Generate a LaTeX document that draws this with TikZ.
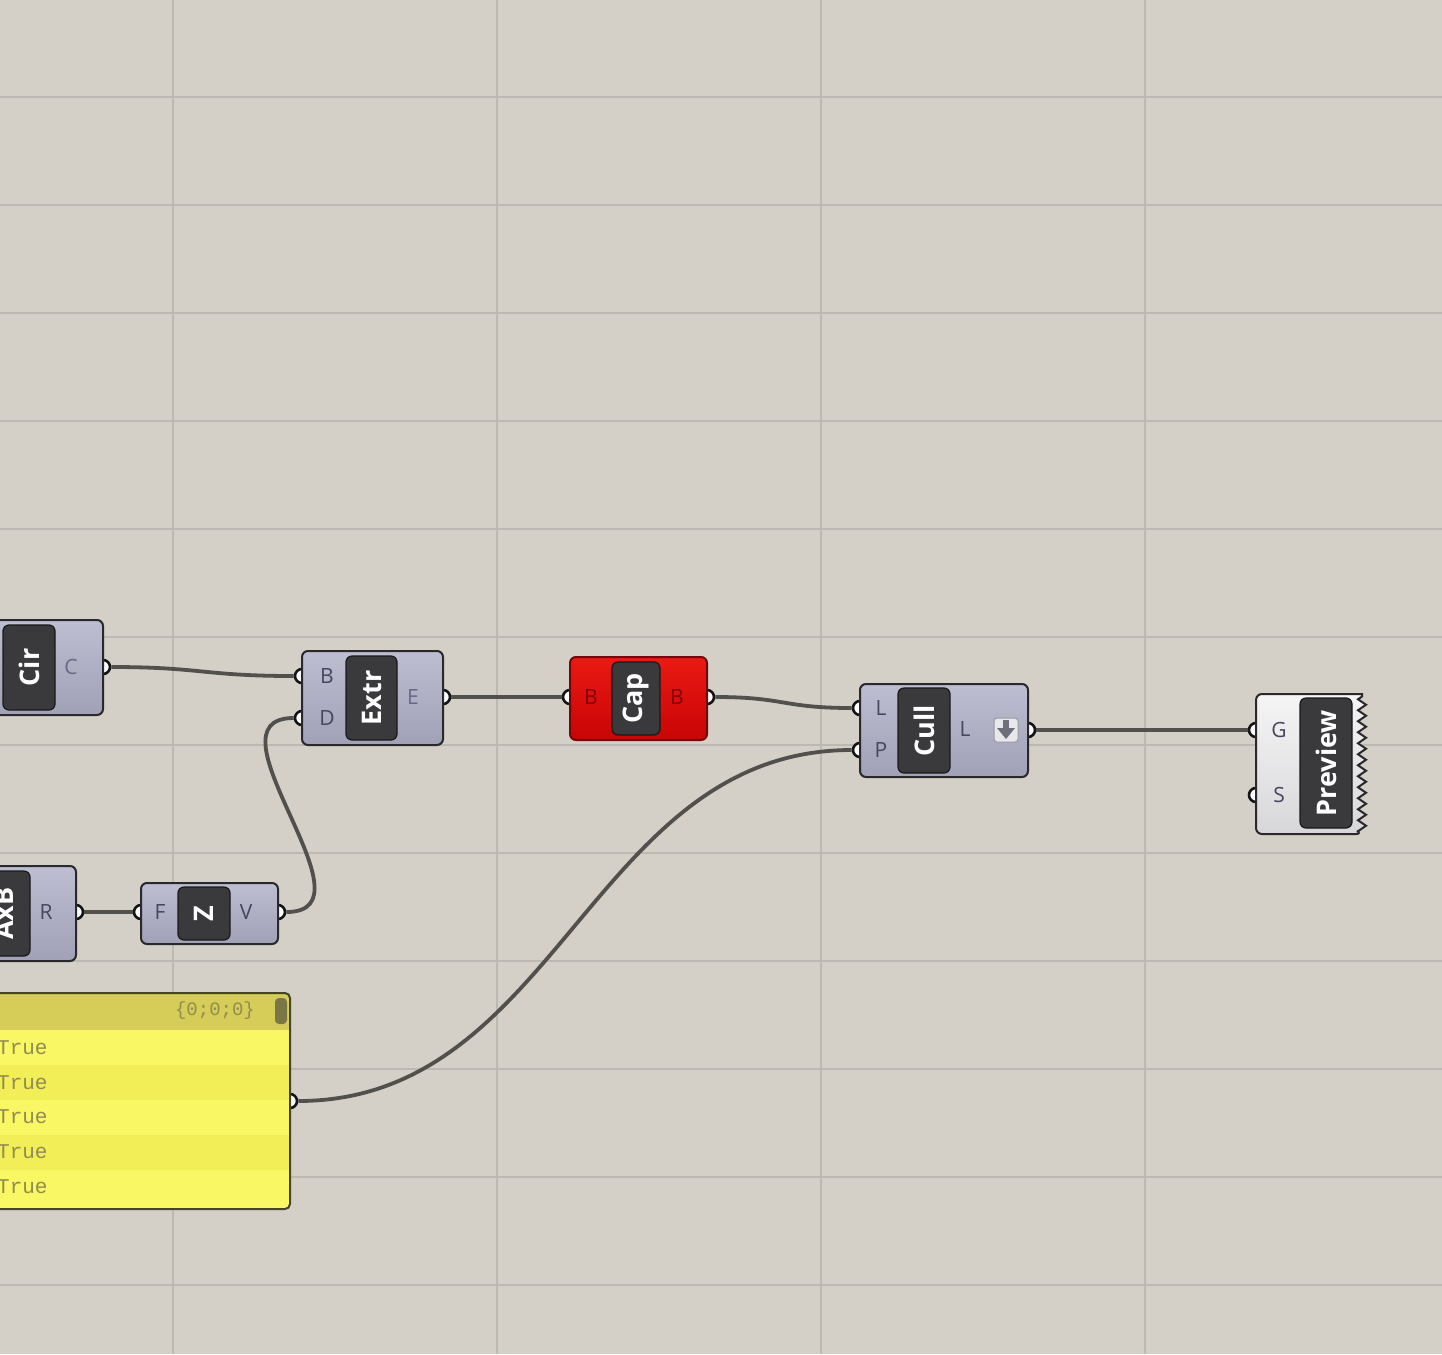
\documentclass[tikz,border=0pt]{standalone}
\usepackage{fontspec}
\setmainfont{Open Sans}
\newfontfamily\monofont{Liberation Mono}
\usetikzlibrary{decorations.pathmorphing}

\definecolor{canvas}{RGB}{212,208,200}
\definecolor{gridc}{RGB}{188,185,178}
\definecolor{edgec}{RGB}{40,40,45}
\definecolor{portEdge}{RGB}{20,20,22}
\definecolor{compTop}{RGB}{190,190,210}
\definecolor{compBot}{RGB}{160,160,182}
\definecolor{labfill}{RGB}{58,58,60}
\definecolor{labedge}{RGB}{25,25,28}
\definecolor{portText}{RGB}{70,70,95}
\definecolor{portTextLight}{RGB}{105,105,135}
\definecolor{wirec}{RGB}{82,80,76}
\definecolor{redTop}{RGB}{235,25,20}
\definecolor{redBot}{RGB}{200,5,5}
\definecolor{redEdge}{RGB}{110,10,10}
\definecolor{redText}{RGB}{130,0,0}
\definecolor{prevTop}{RGB}{245,245,245}
\definecolor{prevBot}{RGB}{215,215,218}
\definecolor{panelHead}{RGB}{214,204,88}
\definecolor{panelRowA}{RGB}{250,247,100}
\definecolor{panelRowB}{RGB}{242,238,88}
\definecolor{panelEdge}{RGB}{70,68,40}
\definecolor{panelText}{RGB}{145,140,80}
\definecolor{iconFill}{RGB}{232,232,236}
\definecolor{iconArrow}{RGB}{110,110,125}

\tikzset{
  gridline/.style={draw=gridc, line width=1.6pt},
  comp/.style={draw=edgec, line width=2pt, rounded corners=6pt,
    top color=compTop, bottom color=compBot, inner sep=0pt},
  redcomp/.style={draw=redEdge, line width=2pt, rounded corners=6pt,
    top color=redTop, bottom color=redBot, inner sep=0pt},
  lab/.style={draw=labedge, line width=1.2pt, fill=labfill, rounded corners=6pt,
    text=white, font=\fontsize{27}{30}\selectfont\bfseries, rotate=90, inner sep=0pt},
  port/.style={circle, draw=portEdge, fill=white, line width=2.6pt,
    minimum size=14pt, inner sep=0pt},
  ptxt/.style={text=portText, font=\fontsize{21}{24}\selectfont, inner sep=0pt},
  ptxtl/.style={ptxt, text=portTextLight},
  wire/.style={draw=wirec, line width=3.8pt},
  rowtxt/.style={text=panelText, font=\monofont\fontsize{21}{24}\selectfont,
    anchor=west, inner sep=0pt}
}

\begin{document}
\begin{tikzpicture}[x=1pt,y=-1pt]
\useasboundingbox (0,0) rectangle (1442,1354);
\clip (0,0) rectangle (1442,1354);
\fill[canvas] (0,0) rectangle (1442,1354);

% canvas grid
\foreach \gx in {173,497,821,1145}
  \draw[gridline] (\gx,0) -- (\gx,1354);
\foreach \gy in {97,205,313,421,529,637,745,853,961,1069,1177,1285}
  \draw[gridline] (0,\gy) -- (1442,\gy);

% ---------- parameter ports (drawn under the component bodies)
\node[port] (cirC)  at (103,667) {};
\node[port] (extrB) at (302,676) {};
\node[port] (extrD) at (302,718) {};
\node[port] (extrE) at (443,697) {};
\node[port] (capIn) at (570,697) {};
\node[port] (capOut) at (707,697) {};
\node[port] (cullL) at (860,708) {};
\node[port] (cullP) at (860,750) {};
\node[port] (cullOut) at (1028,730) {};
\node[port] (prevG) at (1256,730) {};
\node[port] (prevS) at (1256,795) {};
\node[port] (axbR) at (76,912) {};
\node[port] (zF) at (141,912) {};
\node[port] (zV) at (278,912) {};
\node[port] (panelOut) at (290,1101) {};

% ---------- Circle
\node[comp, minimum width=110pt, minimum height=95pt] (cir) at (48,667.5) {};
\node[lab, minimum width=85pt, minimum height=52pt] (cirLab) at (29,667.5) {Cir};
\node[ptxtl] (cirCt) at (71,667) {C};

% ---------- Extrude
\node[comp, minimum width=141pt, minimum height=94pt] (extr) at (372.5,698) {};
\node[lab, minimum width=84pt, minimum height=51pt] (extrLab) at (371.5,698) {Extr};
\node[ptxt] (extrBt) at (327,676) {B};
\node[ptxt] (extrDt) at (327,718) {D};
\node[ptxtl] (extrEt) at (413,697) {E};

% ---------- Cap holes (red: error state)
\node[redcomp, minimum width=137pt, minimum height=83pt] (cap) at (638.5,698.5) {};
\node[lab, minimum width=73pt, minimum height=48pt] (capLab) at (636,698.5) {Cap};
\node[ptxt, text=redText] (capInt) at (591,697) {B};
\node[ptxt, text=redText] (capOutt) at (677,697) {B};

% ---------- Cull pattern
\node[comp, minimum width=168pt, minimum height=93pt] (cull) at (944,730.5) {};
\node[lab, minimum width=85pt, minimum height=52pt] (cullLab) at (924,730.5) {Cull};
\node[ptxt] (cullLt) at (881,708) {L};
\node[ptxt] (cullPt) at (881,750) {P};
\node[ptxt] (cullOt) at (965,729) {L};
\node[draw=iconArrow!70, fill=iconFill, rounded corners=3pt, line width=1pt,
      minimum size=24pt, inner sep=0pt] (cullIcon) at (1006,730) {};
\fill[iconArrow] (1003,720) rectangle (1009,729);
\fill[iconArrow] (997,728) -- (1015,728) -- (1006,739) -- cycle;

% ---------- Custom preview
\path[draw=edgec, line width=2pt, top color=prevTop, bottom color=prevBot]
  [rounded corners=6pt] (1362,694) -- (1256,694) -- (1256,834) -- (1362,834)
  [sharp corners] decorate[decoration={zigzag, segment length=11pt, amplitude=4pt}]
  {-- (1362,694)} -- cycle;
\node[lab, minimum width=130pt, minimum height=52pt] (prevLab) at (1326,763) {Preview};
\node[ptxt] (prevGt) at (1279,730) {G};
\node[ptxt] (prevSt) at (1279,795) {S};

% ---------- Cross product
\node[comp, minimum width=84pt, minimum height=95pt] (axb) at (34,913.5) {};
\node[lab, minimum width=85pt, minimum height=52pt] (axbLab) at (4,913.5) {AxB};
\node[ptxt] (axbRt) at (46,912) {R};

% ---------- Unit Z
\node[comp, minimum width=137pt, minimum height=61pt] (unitz) at (209.5,913.5) {};
\node[lab, minimum width=53pt, minimum height=52pt] (unitzLab) at (204,913.5) {Z};
\node[ptxt] (zFt) at (160,912) {F};
\node[ptxt] (zVt) at (246,912) {V};

% ---------- Boolean panel
\begin{scope}
  \clip[rounded corners=5pt] (-10,993) rectangle (290,1209);
  \fill[panelRowA] (-10,993) rectangle (290,1209);
  \fill[panelHead] (-10,993) rectangle (290,1030);
  \foreach \ry in {1065,1135}
    \fill[panelRowB] (-10,\ry) rectangle (290,\ry+35);
\end{scope}
\draw[draw=panelEdge, line width=2pt, rounded corners=5pt] (-10,993) rectangle (290,1209);
\node[draw=none, fill=panelText!85!black, rounded corners=4pt,
      minimum width=12pt, minimum height=26pt, inner sep=0pt] (panelTab) at (281,1011) {};
\node[text=panelText, font=\monofont\fontsize{19}{22}\selectfont, inner sep=0pt]
  (panelHeadTxt) at (215,1011) {\{0;0;0\}};
\node[rowtxt] (row1) at (-3,1048) {True};
\node[rowtxt] (row2) at (-3,1083) {True};
\node[rowtxt] (row3) at (-3,1117) {True};
\node[rowtxt] (row4) at (-3,1152) {True};
\node[rowtxt] (row5) at (-3,1187) {True};

% ---------- wires
\draw[wire] (cirC.east) .. controls +(90,0) and +(-90,0) .. (extrB.west);
\draw[wire] (axbR.east) -- (zF.west);
\draw[wire] (zV.east) .. controls +(95,0) and +(-95,0) .. (extrD.west);
\draw[wire] (extrE.east) -- (capIn.west);
\draw[wire] (capOut.east) .. controls +(70,0) and +(-70,0) .. (cullL.west);
\draw[wire] (panelOut.east) .. controls +(260,0) and +(-260,0) .. (cullP.west);
\draw[wire] (cullOut.east) -- (prevG.west);
\end{tikzpicture}
\end{document}
